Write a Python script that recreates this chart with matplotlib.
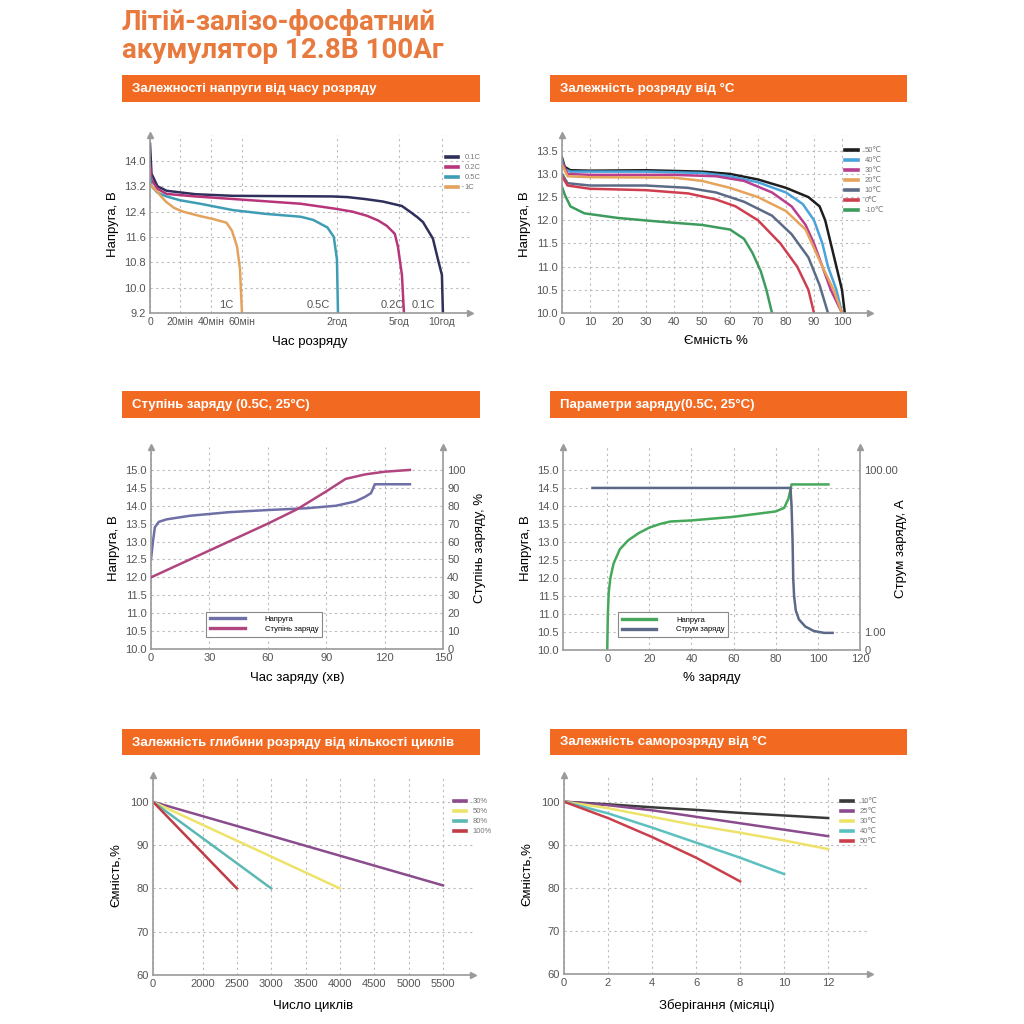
"""
LiFePO4 12.8V 100Ah datasheet: six characteristic curves on one sheet.
"""
import numpy as np
import matplotlib
matplotlib.use('Agg')
import matplotlib.pyplot as plt
from matplotlib.patches import Rectangle

plt.rcParams['font.family'] = ['Liberation Sans', 'DejaVu Sans']

ORANGE = '#F26A21'
TITLE_C = '#E87A3E'
AXIS_C = '#9A9A9A'
TICK_C = '#555555'

# ---- 1. discharge voltage vs time (minutes) ----
dis_time_ticks = [0, 20, 40, 60, 120, 300, 600]
dis_time_labels = ['0', '20мін', '40мін', '60мін', '2год', '5год', '10год']
dis_tick_pos = [0, 3.0, 6.1, 9.2, 18.7, 24.9, 29.2]   # where each tick sits on the broken axis
dis_rates = ['0.1C', '0.2C', '0.5C', '1C']
dis_t_01 = [0, 1, 5, 11, 30, 54, 117, 150, 200, 253, 320, 377, 430, 468, 537, 572, 600, 607]
dis_v_01 = [14.55, 13.6, 13.2, 13.06, 12.95, 12.9, 12.88, 12.86, 12.8, 12.72, 12.58, 12.4, 12.22, 12.07,
            11.55, 10.9, 10.4, 9.2]
dis_t_02 = [0, 1, 5, 11, 30, 54, 97, 118, 165, 207, 240, 265, 288, 297, 321, 335]
dis_v_02 = [13.9, 13.4, 13.12, 12.96, 12.88, 12.8, 12.65, 12.5, 12.4, 12.27, 12.12, 11.95, 11.7, 11.3,
            10.4, 9.2]
dis_t_05 = [0, 1, 5, 11, 20, 33, 54, 75, 97, 105, 114, 118, 120, 123]
dis_v_05 = [13.5, 13.2, 13.0, 12.88, 12.76, 12.65, 12.45, 12.33, 12.24, 12.14, 11.9, 11.6, 10.9, 9.2]
dis_t_1 = [0, 1, 4.5, 8, 11, 16, 22, 33, 42, 50, 53.5, 56.8, 58.7, 60]
dis_v_1 = [13.3, 13.2, 13.05, 12.85, 12.7, 12.52, 12.4, 12.26, 12.16, 12.05, 11.8, 11.3, 10.6, 9.2]
dis_y_ticks = [9.2, 10.0, 10.8, 11.6, 12.4, 13.2, 14.0]

# ---- 2. discharge vs temperature ----
temp_labels = ['50℃', '40℃', '30℃', '20℃', '10℃', '0℃', '-10℃']
cap_50 = [0, 1, 3, 10, 30, 50, 60, 70, 80, 88, 92, 94, 96, 98, 100, 101]
v_50 = [13.35, 13.15, 13.08, 13.07, 13.08, 13.05, 13.0, 12.88, 12.7, 12.5, 12.3, 12.0, 11.5, 11.0, 10.5, 10.0]
cap_40 = [0, 1, 3, 30, 50, 60, 70, 80, 86, 90, 93, 95, 98, 100]
v_40 = [13.3, 13.1, 13.05, 13.05, 13.02, 12.95, 12.82, 12.6, 12.35, 12.0, 11.5, 11.0, 10.5, 10.0]
cap_30 = [0, 2, 10, 40, 55, 65, 75, 82, 87, 90, 93, 96, 100]
v_30 = [13.25, 13.0, 12.98, 12.98, 12.95, 12.85, 12.6, 12.3, 11.9, 11.5, 11.0, 10.5, 10.0]
cap_20 = [0, 2, 10, 40, 50, 60, 70, 80, 87, 90, 93, 97, 100]
v_20 = [13.2, 12.95, 12.93, 12.92, 12.85, 12.7, 12.5, 12.2, 11.8, 11.4, 11.0, 10.5, 10.0]
cap_10 = [0, 2, 10, 30, 45, 55, 65, 75, 82, 88, 92, 95]
v_10 = [13.0, 12.8, 12.75, 12.75, 12.7, 12.6, 12.4, 12.1, 11.7, 11.2, 10.6, 10.0]
cap_0 = [0, 2, 10, 30, 45, 55, 62, 70, 78, 84, 88, 90]
v_0 = [12.95, 12.75, 12.68, 12.65, 12.58, 12.45, 12.3, 12.0, 11.5, 11.0, 10.5, 10.0]
cap_m10 = [0, 1, 3, 8, 20, 35, 50, 60, 65, 68, 71, 73, 75]
v_m10 = [12.72, 12.55, 12.3, 12.15, 12.05, 11.97, 11.9, 11.8, 11.6, 11.3, 10.9, 10.5, 10.0]

# ---- 3. state of charge (0.5C, 25C) ----
soc_t_v = [0, 1, 2, 4, 8, 20, 40, 60, 80, 95, 105, 110, 113, 115, 133]
soc_v = [12.5, 13.0, 13.4, 13.55, 13.62, 13.72, 13.82, 13.88, 13.93, 14.0, 14.12, 14.25, 14.35, 14.6, 14.6]
soc_t_p = [0, 30, 60, 75, 90, 100, 110, 120, 133]
soc_p = [40, 55, 70, 78, 88, 95, 97.5, 99, 100]

# ---- 4. charge parameters (0.5C, 25C) ----
chg_pct_v = [0, 0.3, 0.7, 1.5, 3, 6, 10, 15, 20, 25, 30, 40, 60, 80, 84, 86, 87, 87.5, 105]
chg_v = [10.0, 11.0, 11.6, 12.0, 12.4, 12.8, 13.05, 13.25, 13.4, 13.5, 13.57, 13.6, 13.7, 13.85, 13.95, 14.2, 14.45, 14.6, 14.6]
chg_pct_i = [-7, 87, 87.5, 88, 88.3, 88.7, 89.5, 91, 94, 98, 103, 107]
chg_i = [60, 60, 36, 13, 4.6, 2.8, 1.85, 1.43, 1.17, 1.03, 0.95, 0.95]

# ---- 5. depth of discharge vs cycles ----
dod_labels = ['30%', '50%', '80%', '100%']
dod_cycles = [[0, 5500], [0, 4000], [0, 3000], [0, 2500]]
dod_cap = [[100, 80.7], [100, 80], [100, 80], [100, 80]]
cyc_ticks = [0, 2000, 2500, 3000, 3500, 4000, 4500, 5000, 5500]

# ---- 6. self-discharge vs temperature ----
sd_labels = ['10℃', '25℃', '30℃', '40℃', '50℃']
sd_month_12 = [0, 2, 4, 6, 8, 10, 12]
sd_10 = [100, 99.4, 98.7, 98.1, 97.4, 96.8, 96.2]
sd_25 = [100, 99.2, 98.0, 96.5, 95.0, 93.5, 92.0]
sd_30 = [100, 98.5, 96.5, 94.5, 92.8, 91.0, 89.0]
sd_month_10 = [0, 2, 4, 6, 8, 10]
sd_40 = [100, 97.3, 94.0, 90.5, 87.0, 83.2]
sd_month_8 = [0, 2, 4, 6, 8]
sd_50 = [100, 96.2, 91.8, 87.0, 81.5]


def add_axes_px(fig, left, top, right, bottom):
    W = H = 1024.0
    return fig.add_axes([left / W, 1 - bottom / H, (right - left) / W, (bottom - top) / H])


def style_axes(ax, xarrow=True):
    for s in ['top', 'right']:
        ax.spines[s].set_visible(False)
    for s in ['left', 'bottom']:
        ax.spines[s].set_color(AXIS_C)
        ax.spines[s].set_linewidth(1.2)
    ax.plot(0, 1, '^', transform=ax.transAxes, clip_on=False, color=AXIS_C, ms=5)
    if xarrow:
        ax.plot(1, 0, '>', transform=ax.transAxes, clip_on=False, color=AXIS_C, ms=5)
    ax.tick_params(length=0, labelsize=8, colors=TICK_C, pad=3)
    ax.grid(True, linestyle=(0, (2, 3)), color='#BBBBBB', linewidth=0.8)
    ax.set_axisbelow(True)


def style_right(ax2):
    for s in ['top', 'left', 'bottom']:
        ax2.spines[s].set_visible(False)
    ax2.spines['right'].set_color(AXIS_C)
    ax2.spines['right'].set_linewidth(1.2)
    ax2.plot(1, 1, '^', transform=ax2.transAxes, clip_on=False, color=AXIS_C, ms=5)
    ax2.tick_params(length=0, labelsize=8, colors=TICK_C, pad=3)


def header(fig, x0, y0, x1, y1, text):
    fig.add_artist(Rectangle((x0 / 1024, 1 - y1 / 1024), (x1 - x0) / 1024, (y1 - y0) / 1024,
                             transform=fig.transFigure, color=ORANGE, lw=0))
    fig.text((x0 + 10) / 1024, 1 - (y0 + y1) / 2 / 1024, text, color='white',
             fontsize=9.5, fontweight='bold', va='center', ha='left')


def small_legend(ax, x, y):
    leg = ax.legend(loc='upper left', bbox_to_anchor=(x, y), fontsize=5.5, frameon=False,
                    handlelength=1.6, handletextpad=0.9, labelspacing=0.35, borderaxespad=0)
    for t in leg.get_texts():
        t.set_color('#777777')
    for h in leg.get_lines():
        h.set_linewidth(2.6)
    return leg


def box_legend(ax, handles, labels, x, y):
    leg = ax.legend(handles, labels, loc='lower left', bbox_to_anchor=(x, y), fontsize=5.5,
                    frameon=True, fancybox=False, handlelength=4.5, handletextpad=2.6,
                    labelspacing=0.3, borderaxespad=0, borderpad=0.5, framealpha=1)
    leg.get_frame().set_edgecolor('#888888')
    leg.get_frame().set_linewidth(0.8)
    for h in leg.get_lines():
        h.set_linewidth(2.4)
    return leg


fig = plt.figure(figsize=(10.24, 10.24), dpi=100)

fig.text(122 / 1024, 1 - 9 / 1024, 'Літій-залізо-фосфатний\nакумулятор 12.8В 100Аг',
         color=TITLE_C, fontsize=20, fontweight='bold', family=['Roboto', 'DejaVu Sans'],
         va='top', ha='left', linespacing=1.05)

header(fig, 122, 75, 480, 102, 'Залежності напруги від часу розряду')
header(fig, 550, 75, 907, 102, 'Залежність розряду від °C')
header(fig, 122, 391, 480, 418, 'Ступінь заряду (0.5C, 25°C)')
header(fig, 550, 391, 907, 418, 'Параметри заряду(0.5C, 25°C)')
header(fig, 122, 729, 480, 755, 'Залежність глибини розряду від кількості циклів')
header(fig, 550, 729, 907, 755, 'Залежність саморозряду від °C')

# ======== 1. Discharge vs time ========
ax = add_axes_px(fig, 150, 135, 470, 313)
t_map = dis_time_ticks + [1200]
p_map = dis_tick_pos + [29.2 + 600 * (29.2 - 24.9) / 300]
ax.set_xscale('function', functions=(lambda x: np.interp(x, t_map, p_map),
                                     lambda p: np.interp(p, p_map, t_map)))
style_axes(ax)
lw = 1.8
ax.plot(dis_t_01, dis_v_01, color='#2E2F5B', lw=lw, label=dis_rates[0])
ax.plot(dis_t_02, dis_v_02, color='#B8357A', lw=lw, label=dis_rates[1])
ax.plot(dis_t_05, dis_v_05, color='#3E9DB5', lw=lw, label=dis_rates[2])
ax.plot(dis_t_1, dis_v_1, color='#E3A35E', lw=lw, label=dis_rates[3])
ax.set_xlim(0, 796)
ax.set_ylim(9.2, 14.82)
ax.set_yticks(dis_y_ticks)
ax.set_yticklabels([f'{v:.1f}' for v in dis_y_ticks])
ax.set_xticks(dis_time_ticks)
ax.set_xticklabels(dis_time_labels, fontsize=7.5)
for t, lab in zip([50, 108, 280, 470], ['1C', '0.5C', '0.2C', '0.1C']):
    ax.text(t, 9.3, lab, fontsize=8, color=TICK_C, ha='center', va='bottom')
ax.set_xlabel('Час розряду', fontsize=9.5, labelpad=6)
ax.set_ylabel('Напруга, В', fontsize=9.5, labelpad=4)
small_legend(ax, 0.915, 0.91)

# ======== 2. Discharge vs temperature ========
ax = add_axes_px(fig, 562, 135, 870, 313)
style_axes(ax)
ax.plot(cap_50, v_50, color='#1E1E1E', lw=lw, label=temp_labels[0])
ax.plot(cap_40, v_40, color='#4AA3DA', lw=lw, label=temp_labels[1])
ax.plot(cap_30, v_30, color='#B93E8E', lw=lw, label=temp_labels[2])
ax.plot(cap_20, v_20, color='#E6A35B', lw=lw, label=temp_labels[3])
ax.plot(cap_10, v_10, color='#5B6B86', lw=lw, label=temp_labels[4])
ax.plot(cap_0, v_0, color='#CF3E4E', lw=lw, label=temp_labels[5])
ax.plot(cap_m10, v_m10, color='#3E9B5E', lw=lw, label=temp_labels[6])
ax.set_xlim(0, 110)
ax.set_ylim(10.0, 13.84)
ax.set_xticks(range(0, 101, 10))
ax.set_yticks(np.arange(10.0, 13.51, 0.5))
ax.set_yticklabels([f'{v:.1f}' for v in np.arange(10.0, 13.51, 0.5)])
ax.set_xlabel('Ємність %', fontsize=9.5, labelpad=6)
ax.set_ylabel('Напруга, В', fontsize=9.5, labelpad=4)
small_legend(ax, 0.91, 0.95)

# ======== 3. State of charge ========
ax = add_axes_px(fig, 151, 447, 443, 649)
style_axes(ax, xarrow=False)
ax2 = ax.twinx()
style_right(ax2)
l1, = ax.plot(soc_t_v, soc_v, color='#6F6FA8', lw=lw)
l2, = ax2.plot(soc_t_p, soc_p, color='#B0457F', lw=lw)
ax.set_xlim(0, 150)
ax.set_ylim(10.0, 15.64)
ax2.set_ylim(0, (15.64 - 10.0) * 20)
ax.set_xticks(range(0, 151, 30))
ax.set_yticks(np.arange(10.0, 15.01, 0.5))
ax.set_yticklabels([f'{v:.1f}' for v in np.arange(10.0, 15.01, 0.5)])
ax2.set_yticks(range(0, 101, 10))
ax.set_xlabel('Час заряду (хв)', fontsize=9.5, labelpad=6)
ax.set_ylabel('Напруга, В', fontsize=9.5, labelpad=4)
ax2.set_ylabel('Ступінь заряду, %', fontsize=9.5, labelpad=6)
box_legend(ax2, [l1, l2], ['Напруга', 'Ступінь заряду'], 0.19, 0.06)

# ======== 4. Charge parameters ========
ax = add_axes_px(fig, 563, 447, 860, 650)
style_axes(ax, xarrow=False)
ax2 = ax.twinx()
style_right(ax2)
ax2.set_yscale('symlog', linthresh=1, linscale=0.2)
l1, = ax.plot(chg_pct_v, chg_v, color='#46A85A', lw=lw)
l2, = ax2.plot(chg_pct_i, chg_i, color='#5B6888', lw=lw)
ax.set_xlim(-21, 120)
ax.set_ylim(10.0, 15.64)
ax2.set_ylim(0, 192)
ax.set_xticks(range(0, 121, 20))
ax.set_yticks(np.arange(10.0, 15.01, 0.5))
ax.set_yticklabels([f'{v:.1f}' for v in np.arange(10.0, 15.01, 0.5)])
ax2.set_yticks([0, 1, 100])
ax2.set_yticklabels(['0', '1.00', '100.00'])
ax2.yaxis.set_minor_locator(matplotlib.ticker.NullLocator())
ax.set_xlabel('% заряду', fontsize=9.5, labelpad=6)
ax.set_ylabel('Напруга, В', fontsize=9.5, labelpad=4)
ax2.set_ylabel('Струм заряду, А', fontsize=9.5, labelpad=-2)
box_legend(ax2, [l1, l2], ['Напруга', 'Струм заряду'], 0.185, 0.064)

# ======== 5. Depth of discharge vs cycles ========
ax = add_axes_px(fig, 153, 775, 473, 975)
c_map = [0, 2000, 20000]
q_map = [0, 721, 721 + 18000]
ax.set_xscale('function', functions=(lambda x: np.interp(x, c_map, q_map),
                                     lambda q: np.interp(q, q_map, c_map)))
style_axes(ax)
for cyc, cap, lab, col in zip(dod_cycles, dod_cap, dod_labels,
                              ['#8A4C8C', '#EEE36A', '#5CB8B3', '#BF3B45']):
    ax.plot(cyc, cap, color=col, lw=lw, label=lab)
ax.set_xlim(0, 5937)
ax.set_ylim(60, 106.2)
ax.set_xticks(cyc_ticks)
ax.set_yticks([60, 70, 80, 90, 100])
ax.set_xlabel('Число циклів', fontsize=9.5, labelpad=8)
ax.set_ylabel('Ємність,%', fontsize=9.5, labelpad=6)
small_legend(ax, 0.93, 0.9)

# ======== 6. Self-discharge vs temperature ========
ax = add_axes_px(fig, 564, 775, 870, 974)
style_axes(ax)
ax.plot(sd_month_12, sd_10, color='#3A3A3A', lw=lw, label=sd_labels[0])
ax.plot(sd_month_12, sd_25, color='#8A4C8C', lw=lw, label=sd_labels[1])
ax.plot(sd_month_12, sd_30, color='#EEE36A', lw=lw, label=sd_labels[2])
ax.plot(sd_month_10, sd_40, color='#5CC0C0', lw=lw, label=sd_labels[3])
ax.plot(sd_month_8, sd_50, color='#C9404C', lw=lw, label=sd_labels[4])
ax.set_xlim(0, 13.9)
ax.set_ylim(60, 106.2)
ax.set_xticks(range(0, 13, 2))
ax.set_yticks([60, 70, 80, 90, 100])
ax.set_xlabel('Зберігання (місяці)', fontsize=9.5, labelpad=8)
ax.set_ylabel('Ємність,%', fontsize=9.5, labelpad=6)
small_legend(ax, 0.895, 0.9)

fig.savefig('out.png', dpi=100, facecolor='white')
plt.close(fig)
